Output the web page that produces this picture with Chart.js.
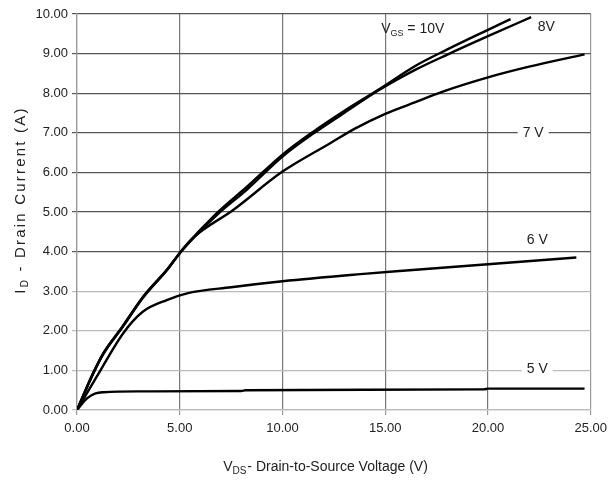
<!DOCTYPE html>
<html>
<head>
<meta charset="utf-8">
<script src="https://cdn.jsdelivr.net/npm/chart.js@4/dist/chart.umd.min.js"></script>
<style>
html,body{margin:0;padding:0;background:#fff;}
#wrap{width:613px;height:494px;}
</style>
</head>
<body>
<div id="wrap"><canvas id="c" width="613" height="494"></canvas></div>
<script>
// ---- data ----
const vgsLabels = ["10V", "8V", "7 V", "6 V", "5 V"];
const vds10 = [0, 0.8, 1.3, 2.2, 3.2, 4.4, 5.1, 6.8, 8.3, 10, 11.5, 13, 14.7, 16.5, 18, 20, 21.1];
const id10  = [0, 0.95, 1.45, 2.1, 2.85, 3.56, 4.03, 4.97, 5.65, 6.45, 7.03, 7.55, 8.1, 8.7, 9.1, 9.6, 9.87];
const vds8  = [0, 0.8, 1.3, 2.2, 3.2, 4.4, 5.1, 6.8, 8.3, 10, 11.5, 13, 14.7, 16.5, 18, 20, 22.1];
const id8   = [0, 0.93, 1.43, 2.08, 2.83, 3.55, 4.02, 4.92, 5.58, 6.4, 6.98, 7.5, 8.08, 8.6, 8.97, 9.44, 9.92];
const vds7  = [0, 0.8, 1.3, 2.2, 3.2, 4.4, 5.1, 5.6, 7.6, 10, 12.3, 13.5, 15, 16.5, 17.8, 20, 22, 24.7];
const id7   = [0, 0.94, 1.44, 2.09, 2.84, 3.55, 4.03, 4.33, 5.05, 6.02, 6.73, 7.1, 7.48, 7.78, 8.04, 8.4, 8.67, 8.98];
const vds6  = [0, 0.96, 2.25, 3.2, 4.4, 5.4, 7.5, 10, 13.8, 15.7, 20, 24.3];
const id6   = [0, 0.84, 1.94, 2.48, 2.78, 2.95, 3.1, 3.25, 3.43, 3.51, 3.68, 3.85];
const vds5  = [0, 0.5, 0.9, 1.3, 3, 8, 8.2, 19.8, 20, 24.7];
const id5   = [0, 0.3, 0.42, 0.45, 0.47, 0.48, 0.5, 0.52, 0.54, 0.54];
const xTicks = [0, 5, 10, 15, 20, 25];
const yTicks = [0, 1, 2, 3, 4, 5, 6, 7, 8, 9, 10];

const pts = (xs, ys) => xs.map((x, i) => ({x: x, y: ys[i]}));
const FONT = "'Liberation Sans', Arial, sans-serif";

const ds = (label, xs, ys) => ({
  label: label, data: pts(xs, ys), borderColor: '#000', borderWidth: 2.4,
  pointRadius: 0, cubicInterpolationMode: 'monotone', fill: false, showLine: true
});

const annot = {
  id: 'annot',
  afterDatasetsDraw(chart) {
    const ctx = chart.ctx, xs = chart.scales.x, ys = chart.scales.y;
    ctx.save();
    ctx.fillStyle = '#222';
    ctx.textBaseline = 'middle';
    // V_GS = 10V
    let px = xs.getPixelForValue(14.8), py = ys.getPixelForValue(9.62);
    ctx.font = '14px ' + FONT;
    ctx.textAlign = 'left';
    ctx.fillText('V', px, py);
    let w = ctx.measureText('V').width;
    ctx.font = '9px ' + FONT;
    ctx.fillText('GS', px + w, py + 4);
    let w2 = ctx.measureText('GS').width;
    ctx.font = '14px ' + FONT;
    ctx.fillText(' = ' + vgsLabels[0], px + w + w2, py);
    // other labels
    const lbl = (t, x, y, bg) => {
      const cx = xs.getPixelForValue(x), cy = ys.getPixelForValue(y);
      ctx.font = '14px ' + FONT;
      const tw = ctx.measureText(t).width;
      if (bg) { ctx.fillStyle = '#fff'; ctx.fillRect(cx - tw / 2 - 5, cy - 8, tw + 10, 16); }
      ctx.fillStyle = '#222';
      ctx.textAlign = 'center';
      ctx.fillText(t, cx, cy);
    };
    lbl(vgsLabels[1], 22.84, 9.67, false);
    lbl(vgsLabels[2], 22.2, 7.0, true);
    lbl(vgsLabels[3], 22.4, 4.3, false);
    lbl(vgsLabels[4], 22.4, 1.03, true);
    ctx.restore();
  },
  afterDraw(chart) {
    const ctx = chart.ctx;
    ctx.save();
    ctx.fillStyle = '#222';
    ctx.textBaseline = 'middle';
    // x title
    const xt1 = 'V', xs1 = 'DS', xt2 = '- Drain-to-Source Voltage (V)';
    ctx.font = '14px ' + FONT; const a = ctx.measureText(xt1).width;
    ctx.font = '10px ' + FONT; const b = ctx.measureText(xs1).width;
    ctx.font = '14px ' + FONT; const c = ctx.measureText(xt2).width;
    let x0 = 325 - (a + b + c) / 2, y0 = 467;
    ctx.textAlign = 'left';
    ctx.fillText(xt1, x0, y0);
    ctx.font = '10px ' + FONT; ctx.fillText(xs1, x0 + a, y0 + 4);
    ctx.font = '14px ' + FONT; ctx.fillText(xt2, x0 + a + b + 1, y0);
    // y title (letter-spaced as in the reference)
    ctx.translate(21, 200);
    ctx.rotate(-Math.PI / 2);
    try { ctx.letterSpacing = '2.2px'; } catch (e) {}
    const yt1 = 'I', ys1 = 'D', yt2 = ' - Drain Current (A)';
    ctx.font = '15px ' + FONT; const d = ctx.measureText(yt1).width;
    ctx.font = '10px ' + FONT; const e = ctx.measureText(ys1).width;
    ctx.font = '15px ' + FONT; const f = ctx.measureText(yt2).width;
    let s = -(d + e + f) / 2;
    ctx.fillText(yt1, s, 0);
    ctx.font = '10px ' + FONT; ctx.fillText(ys1, s + d, 4);
    ctx.font = '15px ' + FONT; ctx.fillText(yt2, s + d + e, 0);
    ctx.restore();
  }
};

new Chart(document.getElementById('c'), {
  type: 'scatter',
  data: {
    datasets: [
      ds('10V', vds10, id10),
      ds('8V', vds8, id8),
      ds('7V', vds7, id7),
      ds('6V', vds6, id6),
      ds('5V', vds5, id5)
    ]
  },
  options: {
    responsive: false,
    animation: false,
    layout: { padding: { top: 14, right: 22, left: 0, bottom: 0 } },
    plugins: { legend: { display: false }, tooltip: { enabled: false } },
    scales: {
      x: {
        type: 'linear', min: 0, max: 25,
        afterBuildTicks: (sc) => { sc.ticks = xTicks.map(v => ({value: v})); },
        afterFit: (sc) => { sc.height = 84; },
        ticks: { color: '#222', font: { family: FONT, size: 13 }, padding: 6,
                 callback: (v) => Number(v).toFixed(2), maxRotation: 0 },
        grid: { color: (c) => c.tick && c.tick.value === 25 ? '#999' : '#777', lineWidth: 1.2,
                tickLength: 5, tickColor: '#999' },
        border: { color: '#bbb', width: 1.2 }
      },
      y: {
        type: 'linear', min: 0, max: 10,
        afterBuildTicks: (sc) => { sc.ticks = yTicks.map(v => ({value: v})); },
        afterFit: (sc) => { sc.width = 77; },
        ticks: { color: '#222', font: { family: FONT, size: 13 }, padding: 4,
                 callback: (v) => Number(v).toFixed(2) },
        grid: { color: (c) => (c.tick && c.tick.value >= 4) ? '#555' : '#bbb', lineWidth: 1.2,
                tickLength: 5, tickColor: (c) => (c.tick && c.tick.value >= 4) ? '#555' : '#bbb' },
        border: { color: '#999', width: 1.2 }
      }
    }
  },
  plugins: [annot]
});
</script>
</body>
</html>
